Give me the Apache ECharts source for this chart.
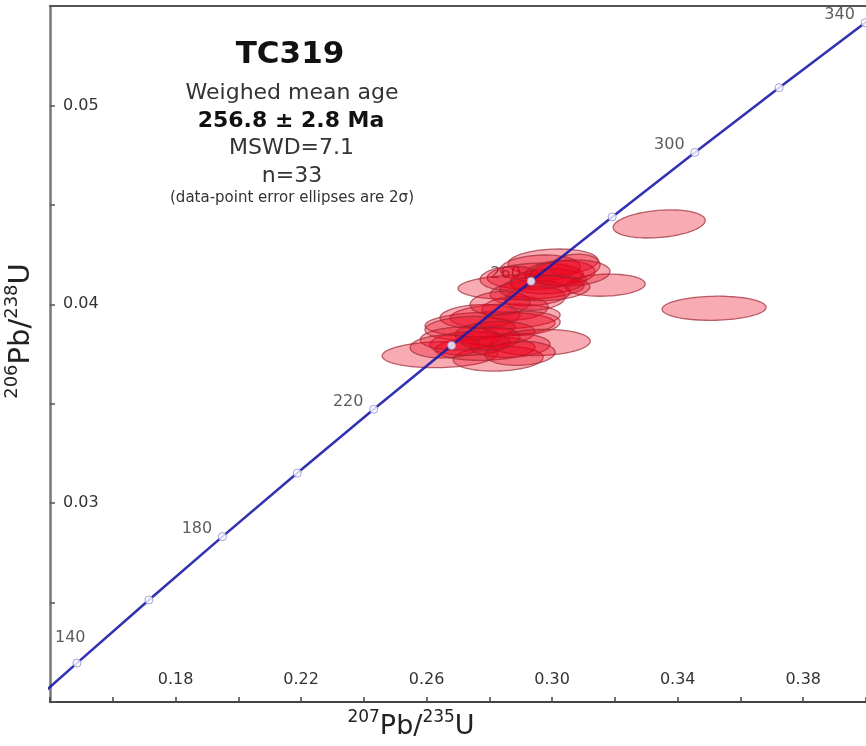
<!DOCTYPE html>
<html>
<head>
<meta charset="utf-8">
<script src="https://cdn.jsdelivr.net/npm/echarts@6/dist/echarts.min.js"></script>
<style>
html,body{margin:0;padding:0;background:#fff;}
#chart{width:866px;height:746px;}
</style>
</head>
<body>
<div id="chart"></div>
<script>
// Concordia curve (ages in Ma and ratios)
const concAges = [130, 140, 160, 180, 200, 220, 240, 260, 280, 300, 320, 340, 350];
const concX = [0.13727, 0.14858, 0.17152, 0.19493, 0.21880, 0.24314, 0.26797, 0.29329, 0.31912, 0.34546, 0.37232, 0.39972, 0.41362];
const concY = [0.020371, 0.021955, 0.025131, 0.028316, 0.031511, 0.034717, 0.037932, 0.041157, 0.044392, 0.047637, 0.050893, 0.054158, 0.055794];
const markerAges = [140, 160, 180, 200, 220, 240, 260, 280, 300, 320, 340];
const labelAges = [140, 180, 220, 260, 300, 340];

// Tick labels
const xTickLabels = ['0.18', '0.22', '0.26', '0.30', '0.34', '0.38'];
const yTickLabels = ['0.03', '0.04', '0.05'];

// Error ellipses (2 sigma): centre, half-widths and correlation
const ellX   = [0.3516, 0.3341, 0.3169, 0.3003, 0.2962, 0.2946, 0.2901, 0.2987, 0.3025, 0.2930, 0.2866,
                0.3073, 0.2882, 0.2850, 0.2802, 0.2770, 0.2834, 0.2738, 0.2898, 0.2818, 0.2946, 0.2643,
                0.2828, 0.2962, 0.2786, 0.2738, 0.2866, 0.2707, 0.2898, 0.2659, 0.2802, 0.3057, 0.2977];
const ellY   = [0.03980, 0.04404, 0.04096, 0.04212, 0.04182, 0.04141, 0.04086, 0.04116, 0.04157, 0.04056, 0.04131,
                0.04192, 0.03980, 0.03939, 0.03899, 0.03939, 0.04005, 0.03879, 0.03904, 0.03854, 0.04030, 0.03747,
                0.03727, 0.03808, 0.03778, 0.03803, 0.03793, 0.03828, 0.03753, 0.03788, 0.03828, 0.04157, 0.04081];
const ellSx  = [0.01657, 0.01466, 0.01275, 0.01434, 0.01275, 0.01530, 0.02008, 0.01211, 0.01115, 0.01275, 0.00956,
                0.00797, 0.01052, 0.01753, 0.02071, 0.01275, 0.00956, 0.01434, 0.01275, 0.01275, 0.00956, 0.01848,
                0.01434, 0.01593, 0.01593, 0.01275, 0.01275, 0.01275, 0.01115, 0.01115, 0.00956, 0.01275, 0.01434];
const ellSy  = [0.000606, 0.000707, 0.000556, 0.00066, 0.00066, 0.00066, 0.00063, 0.00063, 0.00063, 0.00063, 0.00060,
                0.00060, 0.00060, 0.00063, 0.00063, 0.00060, 0.00060, 0.00060, 0.00060, 0.00060, 0.00060, 0.000657,
                0.00063, 0.000657, 0.00060, 0.00060, 0.00060, 0.00058, 0.00060, 0.00058, 0.00058, 0.00066, 0.00063];
const ellRho = [0.08, 0.25, 0.12, 0.12, 0.12, 0.12, 0.1, 0.12, 0.12, 0.12, 0.12,
                0.12, 0.12, 0.12, 0.1, 0.12, 0.12, 0.12, 0.12, 0.12, 0.12, 0.1,
                0.1, 0.1, 0.1, 0.1, 0.1, 0.1, 0.1, 0.1, 0.1, 0.12, 0.12];

const FONT = "'DejaVu Sans', sans-serif";

const lineData = concX.map((x, i) => [x, concY[i]]);
const markerData = markerAges.map(a => { const i = concAges.indexOf(a); return [concX[i], concY[i], a]; });
const labelData = labelAges.map(a => { const i = concAges.indexOf(a); return [concX[i], concY[i], a]; });
const ellData = ellX.map((x, i) => [x, ellY[i], ellSx[i], ellSy[i], ellRho[i]]);

const chart = echarts.init(document.getElementById('chart'), null, {renderer: 'canvas'});

const nameRich = (main, sup) => ({
  main: {fontSize: main, fontFamily: FONT, color: '#222', verticalAlign: 'bottom', lineHeight: main + 4},
  sup: {fontSize: sup, fontFamily: FONT, color: '#222', verticalAlign: 'top', lineHeight: main + 4}
});

const option = {
  animation: false,
  backgroundColor: '#ffffff',
  grid: {left: 50, right: 0, top: 6, bottom: 44, containLabel: false, outerBoundsMode: 'none'},
  xAxis: [{
    type: 'value', min: 0.14, max: 0.40, interval: 0.02,
    name: '{sup|207}{main|Pb/}{sup|235}{main|U}',
    nameLocation: 'middle', nameGap: 7,
    nameTextStyle: {padding: [0, 94, 0, 0], rich: nameRich(27, 17)},
    axisLine: {show: true, onZero: false, lineStyle: {color: '#444', width: 2}},
    axisTick: {show: true, inside: true, length: 5, lineStyle: {color: '#444', width: 1.5}},
    axisLabel: {
      inside: true, margin: 14, fontSize: 16, fontFamily: FONT, color: '#333',
      formatter: v => { const s = v.toFixed(2); return xTickLabels.includes(s) ? s : ''; }
    },
    splitLine: {show: false}
  }, {
    type: 'value', position: 'top', min: 0.14, max: 0.40,
    axisLine: {show: true, lineStyle: {color: '#555', width: 2}},
    axisTick: {show: false}, axisLabel: {show: false}, splitLine: {show: false}
  }],
  yAxis: {
    type: 'value', min: 0.02, max: 0.055, interval: 0.005,
    name: '{sup|206}{main|Pb/}{sup|238}{main|U}',
    nameLocation: 'middle', nameGap: 14,
    nameTextStyle: {padding: [0, 0, 0, 46], rich: nameRich(29, 18)},
    axisLine: {show: true, onZero: false, lineStyle: {color: '#777', width: 2.5}},
    axisTick: {show: true, inside: true, length: 5, lineStyle: {color: '#555', width: 1.5}},
    axisLabel: {
      inside: true, margin: 13, fontSize: 16, fontFamily: FONT, color: '#333',
      formatter: v => { const s = v.toFixed(2); return (yTickLabels.includes(s) && Math.abs(v - parseFloat(s)) < 1e-6) ? s : ''; }
    },
    splitLine: {show: false}
  },
  graphic: [
    {type: 'text', x: 290, y: 55, z: 10, style: {text: 'TC319', font: "bold 31px 'DejaVu Sans', sans-serif", fill: '#111', align: 'center', verticalAlign: 'middle'}},
    {type: 'text', x: 292, y: 93.5, z: 10, style: {text: 'Weighed mean age', font: "22px 'DejaVu Sans', sans-serif", fill: '#333', align: 'center', verticalAlign: 'middle'}},
    {type: 'text', x: 291, y: 121, z: 10, style: {text: '256.8 ± 2.8 Ma', font: "bold 22px 'DejaVu Sans', sans-serif", fill: '#111', align: 'center', verticalAlign: 'middle'}},
    {type: 'text', x: 291.5, y: 148.5, z: 10, style: {text: 'MSWD=7.1', font: "22px 'DejaVu Sans', sans-serif", fill: '#333', align: 'center', verticalAlign: 'middle'}},
    {type: 'text', x: 292, y: 176, z: 10, style: {text: 'n=33', font: "22px 'DejaVu Sans', sans-serif", fill: '#333', align: 'center', verticalAlign: 'middle'}},
    {type: 'text', x: 292, y: 198.5, z: 10, style: {text: '(data-point error ellipses are 2σ)', font: "15px 'DejaVu Sans', sans-serif", fill: '#333', align: 'center', verticalAlign: 'middle'}}
  ],
  series: [
    {
      name: 'age labels', type: 'scatter', z: 1, silent: true,
      data: labelData, symbolSize: 1, itemStyle: {color: 'transparent'},
      label: {
        show: true, position: [-25, -7], align: 'center', verticalAlign: 'middle',
        fontSize: 16, fontFamily: FONT, color: '#333',
        formatter: p => String(p.value[2])
      },
      labelLayout: function (params) {
        const r = params.labelRect;
        if (r.x < 53) {
          return {x: 55 + r.width / 2, y: params.rect.y - 25};
        }
        return {};
      }
    },
    {
      name: 'ellipses', type: 'custom', z: 2, clip: true,
      data: ellData,
      encode: {x: 0, y: 1},
      renderItem: function (params, api) {
        const cx = api.value(0), cy = api.value(1), sx = api.value(2), sy = api.value(3), r = api.value(4);
        const k = Math.sqrt(1 - r * r);
        const pts = [];
        const N = 90;
        for (let i = 0; i < N; i++) {
          const t = i / N * 2 * Math.PI;
          pts.push(api.coord([cx + sx * Math.cos(t), cy + sy * (r * Math.cos(t) + k * Math.sin(t))]));
        }
        return {
          type: 'polygon', shape: {points: pts},
          style: {fill: 'rgba(238,0,28,0.33)', stroke: 'rgba(155,40,50,0.7)', lineWidth: 1.3}
        };
      }
    },
    {
      name: 'concordia', type: 'line', z: 3, clip: true, silent: true,
      data: lineData, symbol: 'none', smooth: false,
      lineStyle: {color: '#1c1caa', width: 2.6, opacity: 0.9}
    },
    {
      name: 'age markers', type: 'scatter', z: 4, silent: true,
      data: markerData, symbol: 'circle', symbolSize: 8,
      itemStyle: {color: '#ffffff', borderColor: '#8a8ad0', borderWidth: 1}
    }
  ]
};
chart.setOption(option);
</script>
</body>
</html>
